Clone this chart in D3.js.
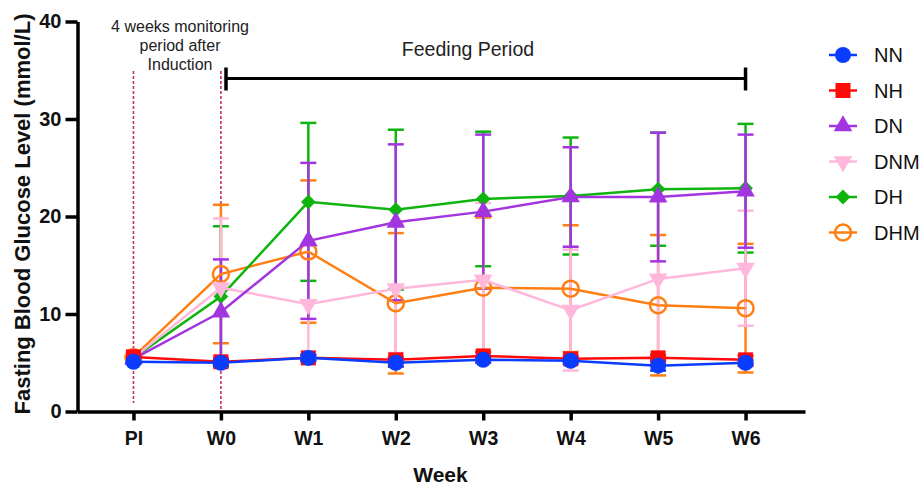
<!DOCTYPE html>
<html>
<head>
<meta charset="utf-8">
<script src="https://cdn.jsdelivr.net/npm/d3@7"></script>
<style>
  body { margin: 0; background: #fff; }
  svg { display: block; font-family: Arial, "Liberation Sans", sans-serif; }
</style>
</head>
<body>
<svg width="922" height="488"></svg>
<script>
// weeks on the x axis
var weeks = ["PI", "W0", "W1", "W2", "W3", "W4", "W5", "W6"];
var yTicks = [0, 10, 20, 30, 40];

// group means (mmol/L)
var nnMean  = [5.1, 5.0, 5.5, 5.0, 5.3, 5.2, 4.7, 5.0];
var nhMean  = [5.6, 5.1, 5.5, 5.3, 5.7, 5.4, 5.5, 5.3];
var dnMean  = [5.4, 10.2, 17.5, 19.4, 20.5, 22.0, 22.0, 22.6];
var dnmMean = [5.5, 12.7, 11.0, 12.6, 13.5, 10.4, 13.6, 14.7];
var dhMean  = [5.5, 11.8, 21.5, 20.7, 21.8, 22.1, 22.8, 22.9];
var dhmMean = [5.6, 14.1, 16.4, 11.1, 12.7, 12.6, 10.9, 10.6];

// standard deviations
var nnSd  = [0.2, 0.3, 0.3, 0.4, 0.3, 0.3, 0.5, 0.3];
var nhSd  = [0.2, 0.3, 0.3, 0.3, 0.4, 0.3, 0.3, 0.4];
var dnSd  = [0, 5.4, 8.0, 8.0, 7.9, 5.1, 6.6, 5.8];
var dnmSd = [0, 7.1, 6.0, 6.6, 7.9, 6.2, 7.9, 5.9];
var dhSd  = [0, 7.2, 8.1, 8.2, 6.9, 6.0, 5.8, 6.6];
var dhmSd = [0, 7.1, 7.3, 7.2, 7.2, 6.5, 7.2, 6.6];

var groups = ["NN", "NH", "DN", "DNM", "DH", "DHM"];
var colors = ["#0a3cff", "#ff0a0a", "#a335e0", "#ffb8dc", "#0fb40f", "#ff7f14"];
var shapes = ["circle", "square", "triangle", "down", "diamond", "open"];

var series = groups.map((g, i) => ({
  name: g,
  color: colors[i],
  shape: shapes[i],
  mean: [nnMean, nhMean, dnMean, dnmMean, dhMean, dhmMean][i],
  sd: [nnSd, nhSd, dnSd, dnmSd, dhSd, dhmSd][i]
}));

const svg = d3.select("svg");

const x = d3.scaleLinear().domain([-0.64, 7.68]).range([77.5, 805]);
const y = d3.scaleLinear().domain([0, 40]).range([411.5, 21.5]);

// marker drawing
function marker(sel, shape, color) {
  if (shape === "circle") {
    sel.append("circle").attr("r", 8).attr("fill", color);
  } else if (shape === "open") {
    sel.append("circle").attr("r", 8).attr("fill", "none")
      .attr("stroke", color).attr("stroke-width", 2.5);
  } else if (shape === "square") {
    sel.append("path").attr("d", d3.symbol(d3.symbolSquare, 225)()).attr("fill", color);
  } else if (shape === "triangle") {
    sel.append("path").attr("d", d3.symbol(d3.symbolTriangle, 150)()).attr("fill", color);
  } else if (shape === "down") {
    sel.append("path").attr("d", d3.symbol(d3.symbolTriangle, 150)())
      .attr("transform", "rotate(180)").attr("fill", color);
  } else if (shape === "diamond") {
    sel.append("path").attr("d", d3.symbol(d3.symbolSquare, 110)())
      .attr("transform", "rotate(45)").attr("fill", color);
  }
}

// reference dashed lines
svg.append("line")
  .attr("x1", x(0)).attr("x2", x(0)).attr("y1", 71).attr("y2", 403)
  .attr("stroke", "#c2306c").attr("stroke-width", 1.6).attr("stroke-dasharray", "3,2");
svg.append("line")
  .attr("x1", x(1)).attr("x2", x(1)).attr("y1", 71).attr("y2", 411)
  .attr("stroke", "#c2306c").attr("stroke-width", 1.6).attr("stroke-dasharray", "3,2");

// annotation text
svg.append("text")
  .attr("text-anchor", "middle")
  .attr("font-size", 16)
  .attr("fill", "#222")
  .selectAll("tspan")
  .data(["4 weeks monitoring", "period after", "Induction"])
  .enter().append("tspan")
    .attr("x", 180)
    .attr("y", (d, i) => 32 + i * 19)
    .text(d => d);

// feeding period bracket
svg.append("line")
  .attr("x1", 226).attr("x2", x(7)).attr("y1", 78.5).attr("y2", 78.5)
  .attr("stroke", "#000").attr("stroke-width", 3);
[226, x(7)].forEach(px => {
  svg.append("line")
    .attr("x1", px).attr("x2", px).attr("y1", 67.5).attr("y2", 90.5)
    .attr("stroke", "#000").attr("stroke-width", 3.5);
});
svg.append("text")
  .attr("x", 468).attr("y", 56)
  .attr("text-anchor", "middle")
  .attr("font-size", 19.5)
  .attr("fill", "#222")
  .text("Feeding Period");

// draw series, last group first so NN ends on top
const drawOrder = series.slice().reverse();

const errG = svg.append("g");
drawOrder.forEach(s => {
  const g = errG.append("g").attr("stroke", s.color).attr("stroke-width", 2.5);
  s.mean.forEach((m, i) => {
    if (!s.sd[i]) return;
    const cx = x(i);
    g.append("line").attr("x1", cx).attr("x2", cx).attr("y1", y(m - s.sd[i])).attr("y2", y(m + s.sd[i]));
    [m - s.sd[i], m + s.sd[i]].forEach(v => {
      g.append("line").attr("x1", cx - 8).attr("x2", cx + 8).attr("y1", y(v)).attr("y2", y(v));
    });
  });
});

const line = d3.line().x((d, i) => x(i)).y(d => y(d));

drawOrder.forEach(s => {
  svg.append("path")
    .datum(s.mean)
    .attr("d", line)
    .attr("fill", "none")
    .attr("stroke", s.color)
    .attr("stroke-width", 2.5);
  s.mean.forEach((m, i) => {
    const g = svg.append("g").attr("transform", `translate(${x(i)},${y(m)})`);
    marker(g, s.shape, s.color);
  });
});

// axes
const xAxis = svg.append("g")
  .attr("transform", `translate(0,${y(0)})`)
  .call(d3.axisBottom(x).tickValues(d3.range(weeks.length)).tickFormat(i => weeks[i])
    .tickSize(9).tickSizeOuter(0).tickPadding(11));

const yAxis = svg.append("g")
  .attr("transform", `translate(${x.range()[0]},0)`)
  .call(d3.axisLeft(y).tickValues(yTicks).tickSize(12).tickSizeOuter(0).tickPadding(4));

[xAxis, yAxis].forEach(a => {
  a.select(".domain").attr("stroke", "#000").attr("stroke-width", 3.5);
  a.selectAll(".tick line").attr("stroke", "#000").attr("stroke-width", 3.5);
  a.selectAll(".tick text")
    .attr("fill", "#111")
    .attr("font-size", 19.5)
    .attr("font-weight", "bold")
    .attr("font-family", "Arial, 'Liberation Sans', sans-serif");
});
yAxis.selectAll(".tick text").attr("font-size", 20);

// axis titles
svg.append("text")
  .attr("x", 440.5).attr("y", 482)
  .attr("text-anchor", "middle")
  .attr("font-size", 21)
  .attr("font-weight", "bold")
  .attr("fill", "#111")
  .text("Week");

svg.append("text")
  .attr("transform", "translate(30,214) rotate(-90)")
  .attr("text-anchor", "middle")
  .attr("font-size", 22)
  .attr("font-weight", "bold")
  .attr("fill", "#111")
  .text("Fasting Blood Glucose Level (mmol/L)");

// legend
const legend = svg.append("g");
series.forEach((s, i) => {
  const ly = 55 + i * 35.5;
  const g = legend.append("g").attr("transform", `translate(843,${ly})`);
  g.append("line").attr("x1", -14).attr("x2", 14)
    .attr("stroke", s.color).attr("stroke-width", 2.5);
  marker(g, s.shape, s.color);
  legend.append("text")
    .attr("x", 874).attr("y", ly)
    .attr("dy", "0.36em")
    .attr("font-size", 20)
    .attr("fill", "#111")
    .text(s.name);
});
</script>
</body>
</html>
